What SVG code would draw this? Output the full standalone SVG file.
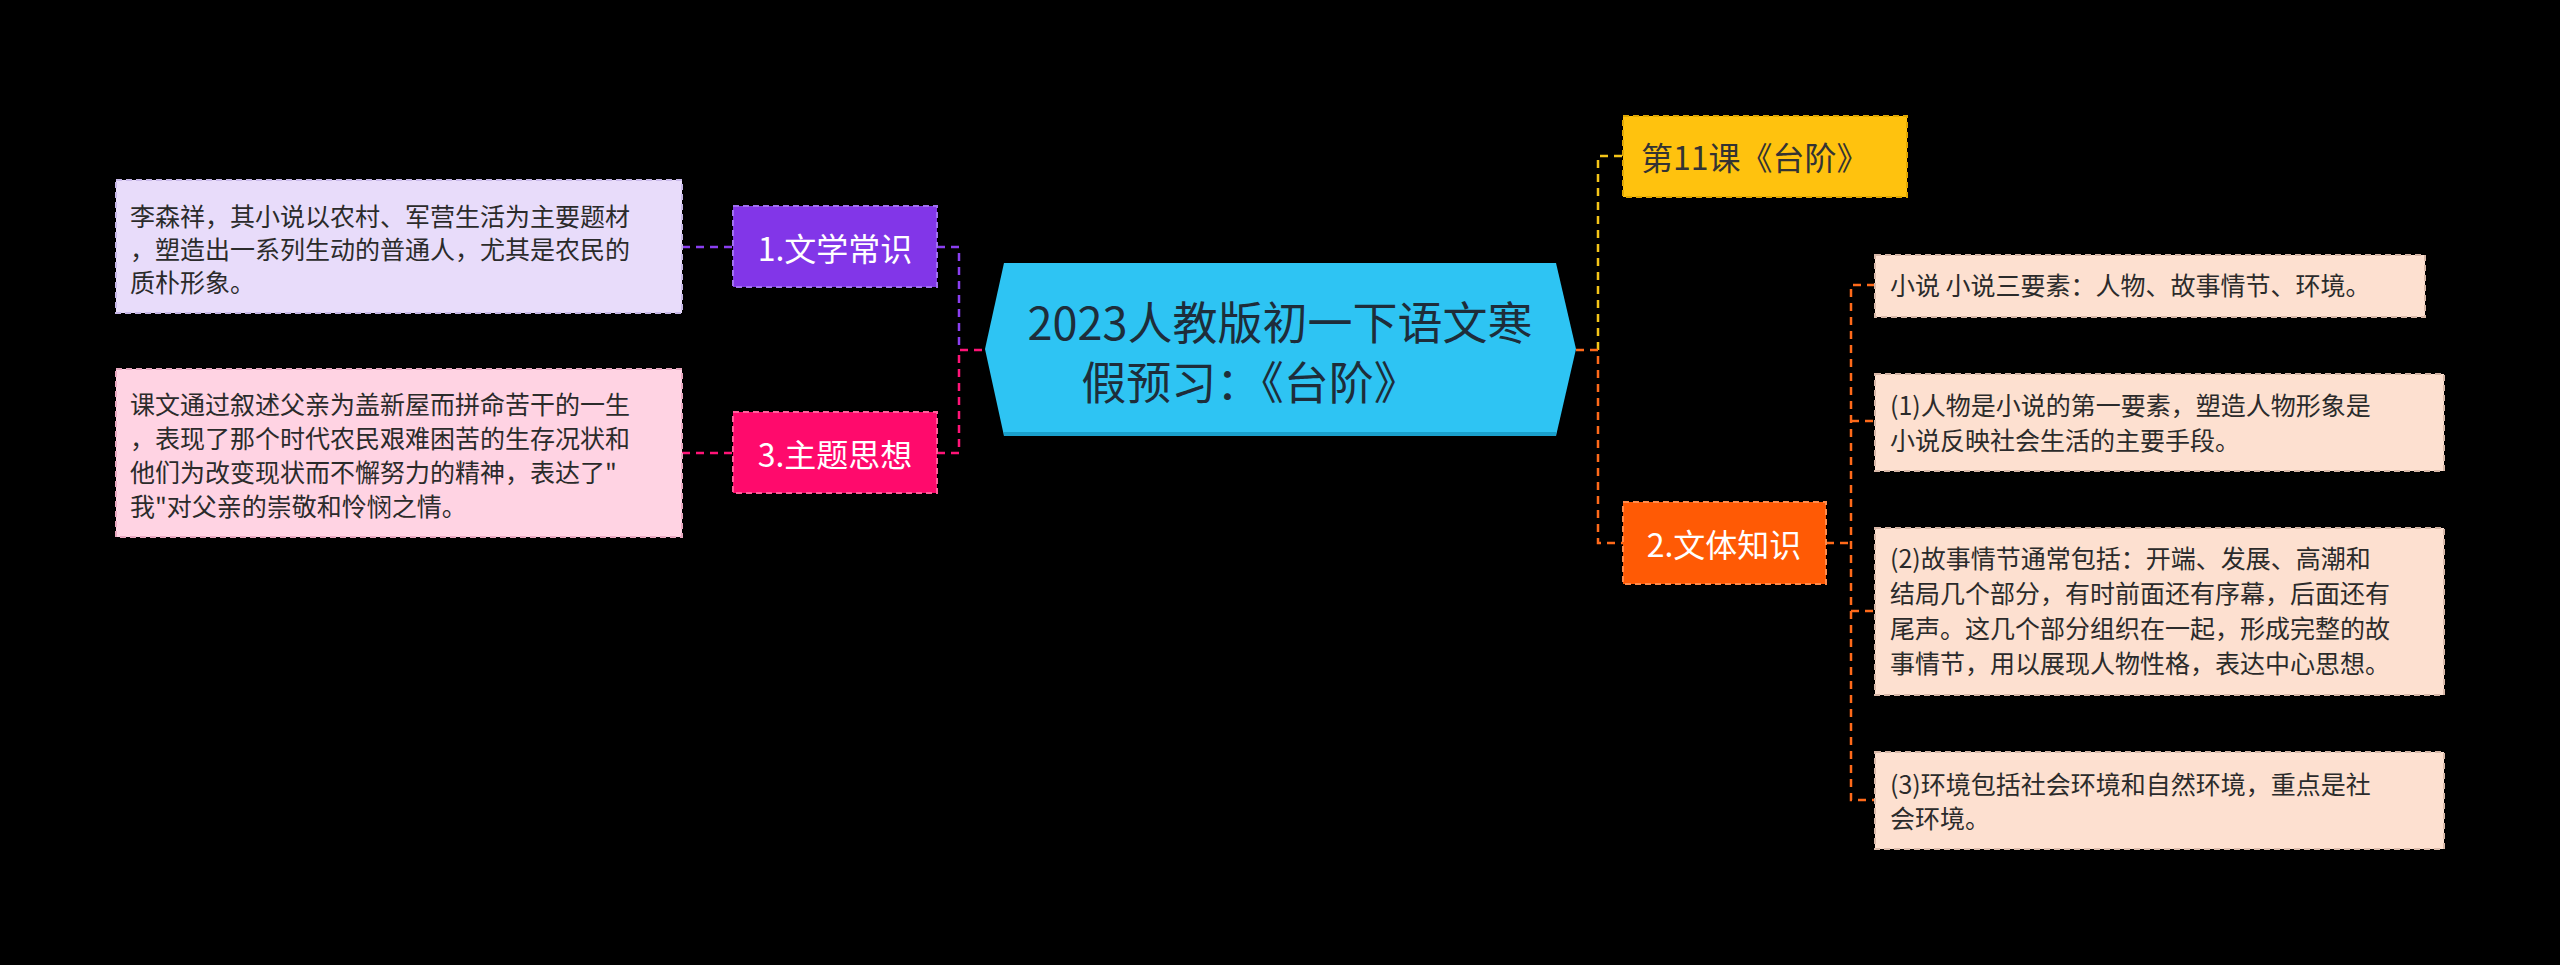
<svg xmlns="http://www.w3.org/2000/svg" width="2560" height="965" viewBox="0 0 2560 965">
<style>
text{font-family:"Noto Sans CJK SC","Liberation Sans",sans-serif;}
.leaf{font-size:25px;fill:#2b2b2b;}
.lbl{font-size:32px;fill:#fff;text-anchor:middle;dominant-baseline:central;}
.c{fill:none;stroke-width:2.5;stroke-dasharray:8 6;}
.b{stroke-width:2;stroke-dasharray:6 4;}
</style>
<rect width="2560" height="965" fill="#000"/>
<g id="connectors">
<path class="c" stroke="#8a3ff0" d="M682 247H733M937 247H959V350"/>
<path class="c" stroke="#ff1477" d="M682 453H733M937 453H959V350H985"/>
<path class="c" stroke="#f5c518" d="M1598 350V156H1623"/>
<path class="c" stroke="#ff6a1a" d="M1576 350H1598V543H1623"/>
<path class="c" stroke="#ff6a1a" d="M1826 543H1851M1875 285H1851V800H1875M1851 421H1875M1851 611H1875"/>
</g>
<g id="center">
<polygon points="1004,263 1556,263 1576,349 1556,436 1004,436 985,349" fill="#2ec4f3"/>
<line x1="1004" y1="434" x2="1556" y2="434" stroke="#1aa0cc" stroke-width="4"/>
<text x="1280" y="320" font-size="45" fill="#1e2d3a" text-anchor="middle" dominant-baseline="central">2023人教版初一下语文寒</text>
<text x="1250" y="380" font-size="45" fill="#1e2d3a" text-anchor="middle" dominant-baseline="central">假预习：《台阶》</text>
</g>
<g id="n1">
<rect class="b" x="733" y="206" width="204" height="81" fill="#8236e8" stroke="#a070f0"/>
<text class="lbl" x="835" y="247">1.文学常识</text>
</g>
<g id="n3">
<rect class="b" x="733" y="412" width="204" height="81" fill="#ff0a6c" stroke="#ff5c9a"/>
<text class="lbl" x="835" y="453">3.主题思想</text>
</g>
<g id="l1">
<rect class="b" x="116" y="180" width="566" height="133" fill="#e8dcfa" stroke="#c8b8e8"/>
<text class="leaf" x="130" y="226">李森祥，其小说以农村、军营生活为主要题材</text>
<text class="leaf" x="130" y="259">，塑造出一系列生动的普通人，尤其是农民的</text>
<text class="leaf" x="130" y="292">质朴形象。</text>
</g>
<g id="l3">
<rect class="b" x="116" y="369" width="566" height="168" fill="#ffd3e3" stroke="#e8a8c0"/>
<text class="leaf" x="130" y="414">课文通过叙述父亲为盖新屋而拼命苦干的一生</text>
<text class="leaf" x="130" y="448">，表现了那个时代农民艰难困苦的生存况状和</text>
<text class="leaf" x="130" y="482">他们为改变现状而不懈努力的精神，表达了"</text>
<text class="leaf" x="130" y="516">我"对父亲的崇敬和怜悯之情。</text>
</g>
<g id="n11">
<rect class="b" x="1623" y="116" width="284" height="81" fill="#ffc20e" stroke="#e0a800"/>
<text x="1641" y="156" font-size="32" fill="#333" dominant-baseline="central">第11课《台阶》</text>
</g>
<g id="n2">
<rect class="b" x="1623" y="502" width="203" height="82" fill="#ff5a05" stroke="#ff8a4a"/>
<text class="lbl" x="1724" y="543">2.文体知识</text>
</g>
<g id="r1">
<rect class="b" x="1875" y="255" width="550" height="62" fill="#fde0d0" stroke="#d8b8a8"/>
<text class="leaf" x="1890" y="295">小说 小说三要素：人物、故事情节、环境。</text>
</g>
<g id="r2">
<rect class="b" x="1875" y="374" width="569" height="97" fill="#fde0d0" stroke="#d8b8a8"/>
<text class="leaf" x="1890" y="415">(1)人物是小说的第一要素，塑造人物形象是</text>
<text class="leaf" x="1890" y="450">小说反映社会生活的主要手段。</text>
</g>
<g id="r3">
<rect class="b" x="1875" y="528" width="569" height="167" fill="#fde0d0" stroke="#d8b8a8"/>
<text class="leaf" x="1890" y="568">(2)故事情节通常包括：开端、发展、高潮和</text>
<text class="leaf" x="1890" y="603">结局几个部分，有时前面还有序幕，后面还有</text>
<text class="leaf" x="1890" y="638">尾声。这几个部分组织在一起，形成完整的故</text>
<text class="leaf" x="1890" y="673">事情节，用以展现人物性格，表达中心思想。</text>
</g>
<g id="r4">
<rect class="b" x="1875" y="752" width="569" height="97" fill="#fde0d0" stroke="#d8b8a8"/>
<text class="leaf" x="1890" y="794">(3)环境包括社会环境和自然环境，重点是社</text>
<text class="leaf" x="1890" y="828">会环境。</text>
</g>
</svg>
